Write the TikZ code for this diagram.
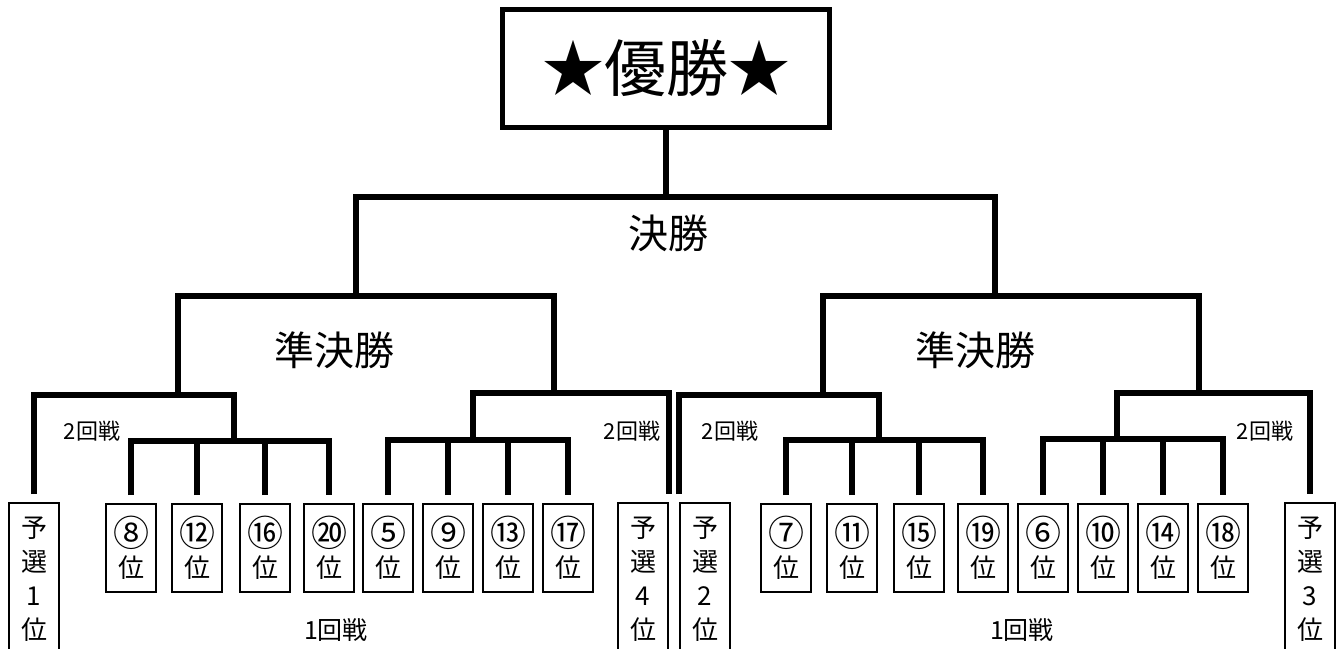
\documentclass[tikz,border=0pt]{standalone}
\usepackage{fontspec}
\setmainfont{Noto Sans CJK JP}
\newcommand{\circnum}[1]{{\fontsize{36}{31}\selectfont #1}}

\begin{document}
\begin{tikzpicture}[
        x=1pt, y=-1pt,
        bracket/.style={
            line width=5.5pt,
            color=black
        },
        champbox/.style={
            rectangle,
            draw=black,
            line width=5pt,
            minimum width=327pt,
            minimum height=118pt,
            inner sep=0pt,
            font=\fontsize{62}{62}\selectfont
        },
        rankbox/.style={
            rectangle,
            draw=black,
            line width=1.6pt,
            minimum width=50pt,
            minimum height=88pt,
            inner sep=0pt,
            align=center,
            font=\fontsize{26}{31}\selectfont
        },
        qualbox/.style={
            rankbox,
            anchor=north,
            minimum height=152pt,
            font=\fontsize{26}{34}\selectfont
        },
        stagelabel/.style={
            font=\fontsize{40}{40}\selectfont
        },
        roundlabel/.style={
            font=\fontsize{22}{22}\selectfont
        },
        firstlabel/.style={
            font=\fontsize{25}{25}\selectfont
        }
    ]

    \fill [white] (0,0) rectangle (1343,648);
    \useasboundingbox (0,0) rectangle (1343,648);

    \node (champ) [champbox] at (666,68.5) {★優勝★};

    % match points
    \coordinate (fin) at (666,197);
    \coordinate (sfL) at (356,296);
    \coordinate (sfR) at (995,296);
    \coordinate (qA) at (178,395);
    \coordinate (qB) at (554,393);
    \coordinate (qC) at (823,395);
    \coordinate (qD) at (1199,393);
    \coordinate (m1) at (234,441);
    \coordinate (m2) at (473,440);
    \coordinate (m3) at (879,440);
    \coordinate (m4) at (1117,439);

    % seeded from the qualifier
    \node (q1) [qualbox] at (34,502) {予\\選\\1\\位};
    \node (q4) [qualbox] at (643,502) {予\\選\\4\\位};
    \node (q2) [qualbox] at (705,502) {予\\選\\2\\位};
    \node (q3) [qualbox] at (1310,502) {予\\選\\3\\位};

    % first round
    \node (r8) [rankbox] at (131,548) {\circnum{⑧}\\位};
    \node (r12) [rankbox] at (197,548) {\circnum{⑫}\\位};
    \node (r16) [rankbox] at (265,548) {\circnum{⑯}\\位};
    \node (r20) [rankbox] at (329,548) {\circnum{⑳}\\位};
    \node (r5) [rankbox] at (388,548) {\circnum{⑤}\\位};
    \node (r9) [rankbox] at (448,548) {\circnum{⑨}\\位};
    \node (r13) [rankbox] at (508,548) {\circnum{⑬}\\位};
    \node (r17) [rankbox] at (568,548) {\circnum{⑰}\\位};
    \node (r7) [rankbox] at (786,548) {\circnum{⑦}\\位};
    \node (r11) [rankbox] at (852,548) {\circnum{⑪}\\位};
    \node (r15) [rankbox] at (919,548) {\circnum{⑮}\\位};
    \node (r19) [rankbox] at (983,548) {\circnum{⑲}\\位};
    \node (r6) [rankbox] at (1043,548) {\circnum{⑥}\\位};
    \node (r10) [rankbox] at (1103,548) {\circnum{⑩}\\位};
    \node (r14) [rankbox] at (1163,548) {\circnum{⑭}\\位};
    \node (r18) [rankbox] at (1223,548) {\circnum{⑱}\\位};

    % labels
    \node (finlabel) [stagelabel] at (668,233) {決勝};
    \node (sfLlabel) [stagelabel] at (334,350) {準決勝};
    \node (sfRlabel) [stagelabel] at (975,350) {準決勝};
    \node (qAlabel) [roundlabel] at (92,431) {2回戦};
    \node (qBlabel) [roundlabel] at (632,431) {2回戦};
    \node (qClabel) [roundlabel] at (730,431) {2回戦};
    \node (qDlabel) [roundlabel] at (1265,431) {2回戦};
    \node (r1Llabel) [firstlabel] at (336,630) {1回戦};
    \node (r1Rlabel) [firstlabel] at (1022,630) {1回戦};

    % brackets
    \draw [bracket] (champ.south) -- (fin);
    \draw [bracket] (sfL) |- (fin) -| (sfR);

    \draw [bracket] (qA) |- (sfL) -| (qB);
    \draw [bracket] (qC) |- (sfR) -| (qD);

    \draw [bracket, shorten <=8pt] (q1.north) |- (qA) -| (m1);
    \draw [bracket, shorten >=8pt] (m2) |- (qB) -| (q4.north east);
    \draw [bracket, shorten <=8pt] (q2.north west) |- (qC) -| (m3);
    \draw [bracket, shorten >=8pt] (m4) |- (qD) -| (q3.north);

    \draw [bracket, shorten <=8pt, shorten >=8pt] (r8.north) |- (m1) -| (r20.north);
    \draw [bracket, shorten <=8pt] (r12.north) -- (r12.north |- m1);
    \draw [bracket, shorten <=8pt] (r16.north) -- (r16.north |- m1);

    \draw [bracket, shorten <=8pt, shorten >=8pt] (r5.north) |- (m2) -| (r17.north);
    \draw [bracket, shorten <=8pt] (r9.north) -- (r9.north |- m2);
    \draw [bracket, shorten <=8pt] (r13.north) -- (r13.north |- m2);

    \draw [bracket, shorten <=8pt, shorten >=8pt] (r7.north) |- (m3) -| (r19.north);
    \draw [bracket, shorten <=8pt] (r11.north) -- (r11.north |- m3);
    \draw [bracket, shorten <=8pt] (r15.north) -- (r15.north |- m3);

    \draw [bracket, shorten <=8pt, shorten >=8pt] (r6.north) |- (m4) -| (r18.north);
    \draw [bracket, shorten <=8pt] (r10.north) -- (r10.north |- m4);
    \draw [bracket, shorten <=8pt] (r14.north) -- (r14.north |- m4);

\end{tikzpicture}
\end{document}
